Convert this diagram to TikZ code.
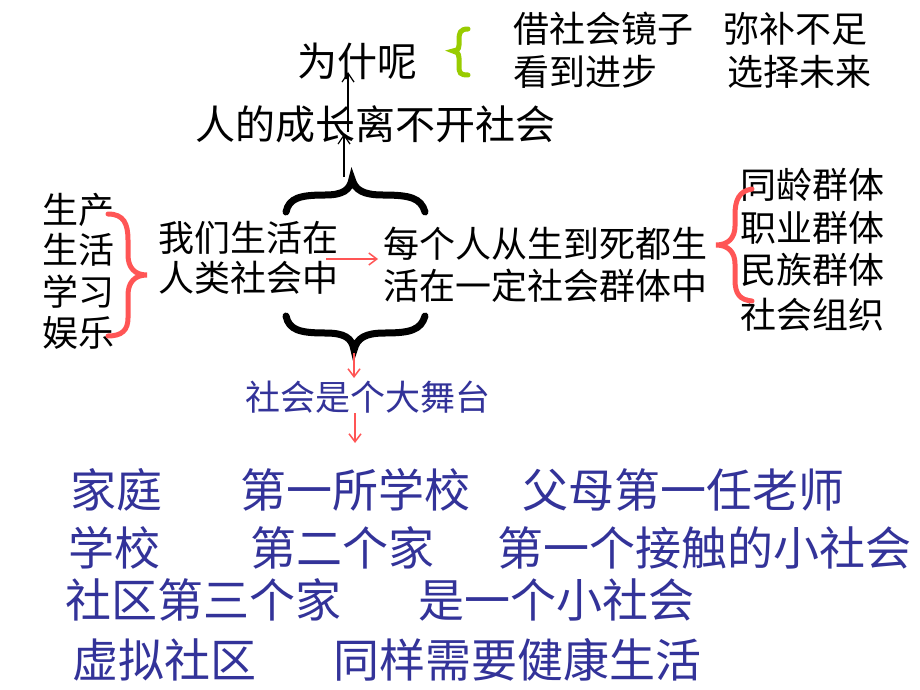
\documentclass[tikz,border=0pt]{standalone}
\usepackage{fontspec}
\setmainfont{Noto Sans CJK SC}
\usetikzlibrary{arrows.meta}
\definecolor{tblue}{HTML}{333399}
\definecolor{tred}{HTML}{FF5555}
\definecolor{tgreen}{HTML}{99CC00}
\tikzset{
  txt/.style={anchor=west,inner sep=0pt,outer sep=0pt},
  big/.style={txt,font=\fontsize{40}{44}\selectfont},
  mid/.style={txt,font=\fontsize{36}{40}\selectfont},
  blu/.style={txt,text=tblue,font=\fontsize{35}{40}\selectfont},
  bot/.style={txt,text=tblue,font=\fontsize{46}{50}\selectfont},
  blackarrow/.style={line width=1.2pt,-{Straight Barb[length=9pt,width=12pt]}},
  redarrow/.style={tred,line width=1.5pt,-{Straight Barb[length=8pt,width=12pt]}},
  blackbrace/.style={line width=7pt,line cap=round},
  redbrace/.style={tred,line width=5pt,line cap=round},
}
\begin{document}
\begin{tikzpicture}[x=1pt,y=-1pt]
\fill[white] (0,0) rectangle (920,690);
\useasboundingbox (0,0) rectangle (920,690);

% top texts
\node[big] (wsn) at (297,61) {为什呢};
\node[mid] (j1a) at (513,29) {借社会镜子};
\node[mid] (j1b) at (723,29) {弥补不足};
\node[mid] (j2a) at (513,72) {看到进步};
\node[mid] (j2b) at (727,72) {选择未来};
\node[big] (rcz) at (195,124) {人的成长离不开社会};

% green brace
\draw[tgreen,line width=5pt,line cap=round]
  (468,29) .. controls (460,29) and (459,33) .. (459,40) -- (459,45)
  .. controls (459,50) and (456,51) .. (453,51)
  .. controls (456,51) and (459,53) .. (459,58) -- (459,66)
  .. controls (459,73) and (460,75) .. (468,75);

% left list
\node[mid] (l1) at (42,210) {生产};
\node[mid] (l2) at (42,250) {生活};
\node[mid] (l3) at (42,292) {学习};
\node[mid] (l4) at (42,333) {娱乐};
\draw[redbrace]
  (108,214) .. controls (124,214) and (128,224) .. (128,240) -- (128,255)
  .. controls (128,268) and (135,275) .. (147,275)
  .. controls (135,275) and (128,282) .. (128,295) -- (128,318)
  .. controls (128,330) and (122,336) .. (108,336);

% center texts
\node[mid] (wm1) at (158,238) {我们生活在};
\node[mid] (wm2) at (158,278) {人类社会中};
\node[mid] (mg1) at (383,244) {每个人从生到死都生};
\node[mid] (mg2) at (383,286) {活在一定社会群体中};

% right list
\node[mid] (r1) at (740,185) {同龄群体};
\node[mid] (r2) at (740,228) {职业群体};
\node[mid] (r3) at (740,270) {民族群体};
\node[mid] (r4) at (740,315) {社会组织};
\draw[redbrace]
  (752,189) .. controls (739,191) and (735,200) .. (735,215) -- (735,226)
  .. controls (735,238) and (728,245) .. (716,245)
  .. controls (728,245) and (735,252) .. (735,264) -- (735,280)
  .. controls (735,294) and (740,300) .. (752,301);

% black braces
\draw[blackbrace]
  (286,212) .. controls (289,198) and (300,195) .. (325,195)
  .. controls (343,195) and (350,190) .. (352,179)
  .. controls (355,190) and (363,195) .. (383,195)
  .. controls (410,195) and (421,198) .. (425,212);
\draw[blackbrace]
  (286,316) .. controls (289,330) and (300,333) .. (325,333)
  .. controls (345,333) and (352,338) .. (354,350)
  .. controls (357,338) and (365,333) .. (385,333)
  .. controls (410,333) and (421,330) .. (425,316);

% black arrows
\coordinate (a1s) at (348,132);
\coordinate (a1e) at (348,72);
\coordinate (a2s) at (344,177);
\coordinate (a2e) at (344,134);
\draw[blackarrow] (a1s) -- (a1e);
\draw[blackarrow] (a2s) -- (a2e);

% red arrows
\coordinate (h1) at (326,259);
\coordinate (h2) at (378,259);
\draw[redarrow] (h1) -- (h2);

\node[blu] (stage) at (245,397) {社会是个大舞台};
\coordinate (v1) at (354,353);
\coordinate (v2) at (354,378);
\draw[redarrow] (v1) -- (v2);
\coordinate (v3) at (355,413);
\coordinate (v4) at (355,443);
\draw[redarrow] (v3) -- (v4);

% bottom rows
\node[bot] (b11) at (70,490) {家庭};
\node[bot] (b12) at (240,490) {第一所学校};
\node[bot] (b13) at (522,490) {父母第一任老师};
\node[bot] (b21) at (68,548) {学校};
\node[bot] (b22) at (250,548) {第二个家};
\node[bot] (b23) at (497,548) {第一个接触的小社会};
\node[bot] (b31) at (65,600) {社区第三个家};
\node[bot] (b32) at (418,600) {是一个小社会};
\node[bot] (b41) at (72,660) {虚拟社区};
\node[bot] (b42) at (333,660) {同样需要健康生活};
\end{tikzpicture}
\end{document}
